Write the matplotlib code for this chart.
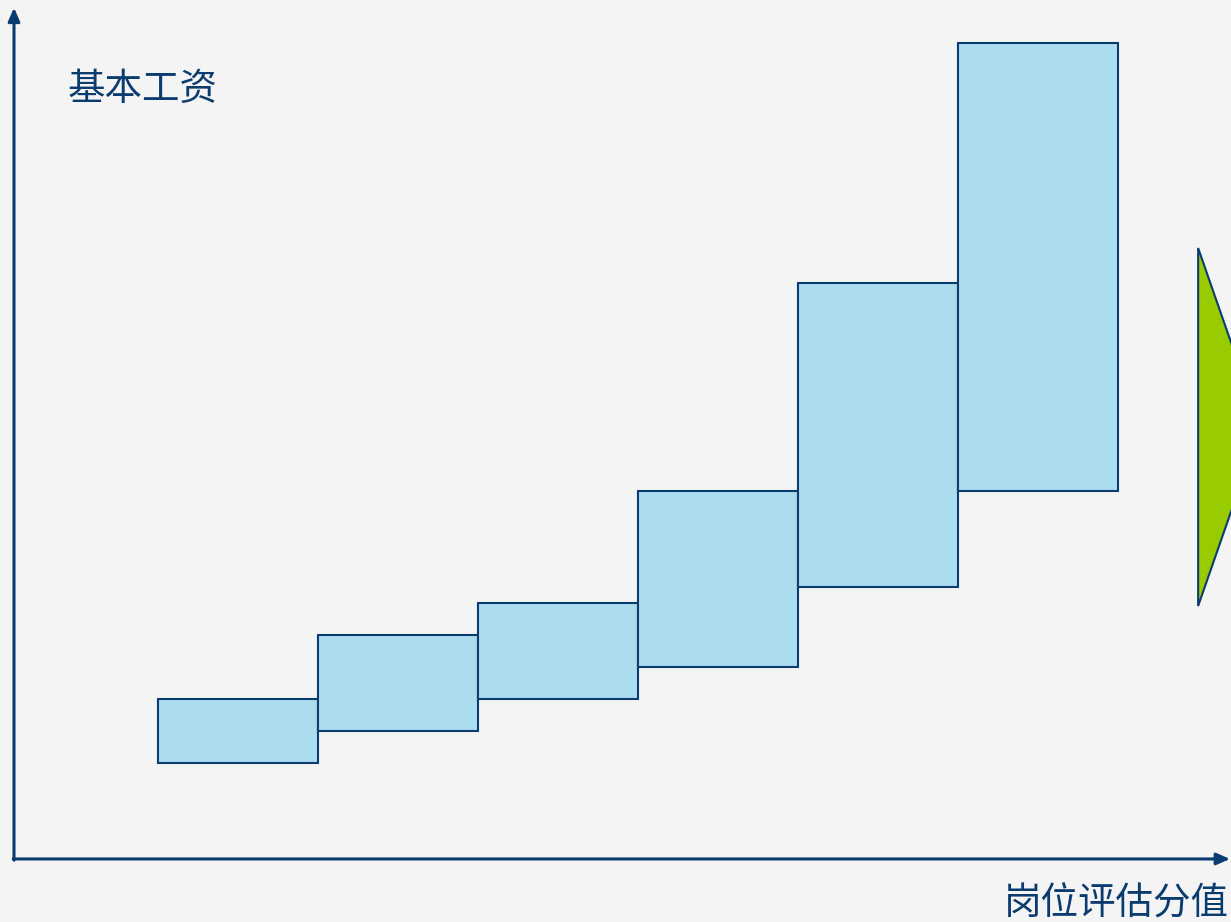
import matplotlib.pyplot as plt
from matplotlib.patches import Polygon

plt.rcParams['font.family'] = ['Noto Sans CJK SC', 'DejaVu Sans']

# salary grades (job evaluation levels) and salary ranges
grades = [1, 2, 3, 4, 5, 6]
salary_min = [3, 4, 5, 6, 8.5, 11.5]
salary_max = [5, 7, 8, 11.5, 18, 25.5]

y_label = '基本工资'
x_label = '岗位评估分值'

navy = '#0b3c6f'
bar_fill = '#acdcf0'
bg = '#f4f4f4'

fig = plt.figure(figsize=(12.31, 9.22), dpi=100, facecolor=bg)
ax = fig.add_axes([0, 0, 1, 1])
ax.set_facecolor(bg)

# one data unit in x = 160 px, in y = 32 px
ax.set_xlim(-0.4875, 7.206)
ax.set_ylim(-1.97, 26.84)
ax.axis('off')

heights = [hi - lo for lo, hi in zip(salary_min, salary_max)]
ax.bar(grades, heights, bottom=salary_min, width=1.0,
       color=bar_fill, edgecolor=navy, linewidth=1.5, zorder=3)

# axes with arrows
x0 = -0.4
ax.annotate('', xy=(x0, 26.6), xytext=(x0, -0.04),
            arrowprops=dict(arrowstyle='-|>,head_length=0.8,head_width=0.35',
                            color=navy, lw=2.2, shrinkA=0, shrinkB=0))
ax.annotate('', xy=(7.2, 0), xytext=(x0 - 0.005, 0),
            arrowprops=dict(arrowstyle='-|>,head_length=0.8,head_width=0.35',
                            color=navy, lw=2.2, shrinkA=0, shrinkB=0))

ax.text(0.055, 0.903, y_label, transform=ax.transAxes, fontsize=27,
        color=navy, ha='left', va='center')
ax.text(0.998, 0.019, x_label, transform=ax.transAxes, fontsize=27,
        color=navy, ha='right', va='center')

# green arrow shape at the right edge
tri = Polygon([(0.9733, 1 - 248 / 922), (0.9733, 1 - 606 / 922), (1.024, 1 - 427 / 922)],
              closed=True, transform=ax.transAxes, facecolor='#99cc00',
              edgecolor=navy, linewidth=1.5, clip_on=False)
ax.add_patch(tri)

fig.savefig('out.png', dpi=100, facecolor=bg)
